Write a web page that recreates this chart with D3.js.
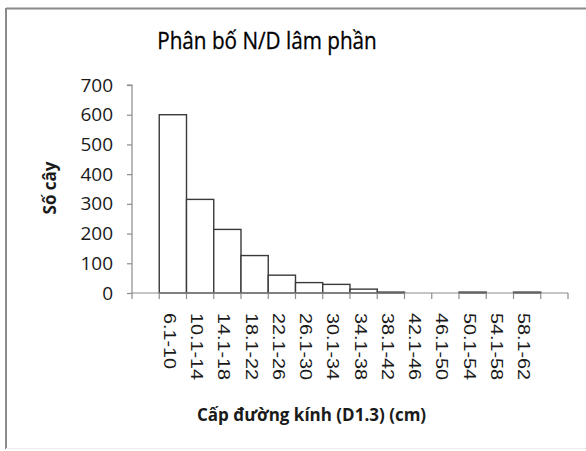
<!DOCTYPE html>
<html><head><meta charset="utf-8">
<script src="https://cdn.jsdelivr.net/npm/d3@7"></script>
<style>body{margin:0;background:#fff}svg{display:block}</style>
</head><body>
<script>
const title = "Phân bố N/D lâm phần";
const xTitle = "Cấp đường kính (D1.3) (cm)";
const yTitle = "Số cây";
const categories = ["", "6.1-10","10.1-14","14.1-18","18.1-22","22.1-26","26.1-30","30.1-34","34.1-38","38.1-42","42.1-46","46.1-50","50.1-54","54.1-58","58.1-62", ""];
const values = [null, 600, 315, 214, 126, 60, 35, 29, 13, 3, 0, 0, 3, 0, 3, null];
const yTicks = [0,100,200,300,400,500,600,700];

const W = 586, H = 451;
const svg = d3.select("body").append("svg").attr("width", W).attr("height", H);

// frame
svg.append("line").attr("x1",6).attr("x2",W).attr("y1",8.5).attr("y2",8.5).attr("stroke","#8a8a8a").attr("stroke-width",2);
svg.append("line").attr("x1",6).attr("x2",6).attr("y1",8).attr("y2",449).attr("stroke","#8a8a8a").attr("stroke-width",2);
svg.append("line").attr("x1",6).attr("x2",W).attr("y1",448.5).attr("y2",448.5).attr("stroke","#ececec").attr("stroke-width",1);

const x0 = 132, x1 = 568, yTop = 85, yBot = 293;
const x = d3.scaleBand().domain(d3.range(categories.length)).range([x0, x1]).padding(0);
const y = d3.scaleLinear().domain([0, 700]).range([yBot, yTop]);

// bars
svg.append("g").selectAll("rect").data(values.map((v,i)=>({v,i})).filter(d=>d.v!==null && d.v>0))
  .join("rect")
  .attr("x", d=>x(d.i)).attr("width", x.bandwidth())
  .attr("y", d=>y(d.v)).attr("height", d=>y(0)-y(d.v))
  .attr("fill","#fff").attr("stroke","#3a3a3a").attr("stroke-width",1.4);

// y axis
const yAxis = d3.axisLeft(y).tickValues(yTicks).tickSize(5).tickPadding(14).tickFormat(d3.format("d"));
const gy = svg.append("g").attr("transform",`translate(${x0},0)`).call(yAxis);
gy.select(".domain").attr("stroke","#8c8c8c").attr("stroke-width",1.2).attr("d",`M-5,${yTop}H0V${yBot}`);
gy.selectAll(".tick line").attr("stroke","#8c8c8c").attr("stroke-width",1.2);
gy.selectAll(".tick text").attr("font-family","Open Sans").attr("font-size",19).attr("fill","#1a1a1a");

// x axis
const xAxis = d3.axisBottom(x).tickSize(0).tickFormat("");
const gx = svg.append("g").attr("transform",`translate(0,${yBot})`).call(xAxis);
gx.select(".domain").attr("stroke","#8c8c8c").attr("stroke-width",1.2).attr("d",`M${x0},0H${x1}`);
const bounds = d3.range(categories.length+1).map(i => i < categories.length ? x(i) : x1);
gx.selectAll("line.b").data(bounds).join("line").attr("class","b")
  .attr("x1",d=>d).attr("x2",d=>d).attr("y1",0).attr("y2",6)
  .attr("stroke","#8c8c8c").attr("stroke-width",1.2);

// x tick labels (rotated, reading downward)
svg.append("g").selectAll("text").data(categories.map((c,i)=>({c,i})).filter(d=>d.c))
  .join("text")
  .attr("transform", d=>`translate(${x(d.i)+x.bandwidth()/2-9},313) rotate(90) scale(1.2,1)`)
  .attr("font-family","Liberation Sans").attr("font-size",16.5).attr("fill","#1a1a1a")
  .text(d=>d.c);

// titles
svg.append("text").attr("transform","translate(267,49) scale(0.9,1)").attr("text-anchor","middle")
  .attr("font-family","Open Sans").attr("font-size",23).attr("fill","#000")
  .attr("stroke","#000").attr("stroke-width",0.3).text(title);
svg.append("text").attr("x",311.5).attr("y",421).attr("text-anchor","middle")
  .attr("font-family","Open Sans").attr("font-weight","bold").attr("font-size",17).attr("fill","#1a1a1a").text(xTitle);
svg.append("text").attr("transform","translate(56,188) rotate(-90)").attr("text-anchor","middle")
  .attr("font-family","Open Sans").attr("font-weight","bold").attr("font-size",17).attr("fill","#1a1a1a").text(yTitle);
</script>
</body></html>
